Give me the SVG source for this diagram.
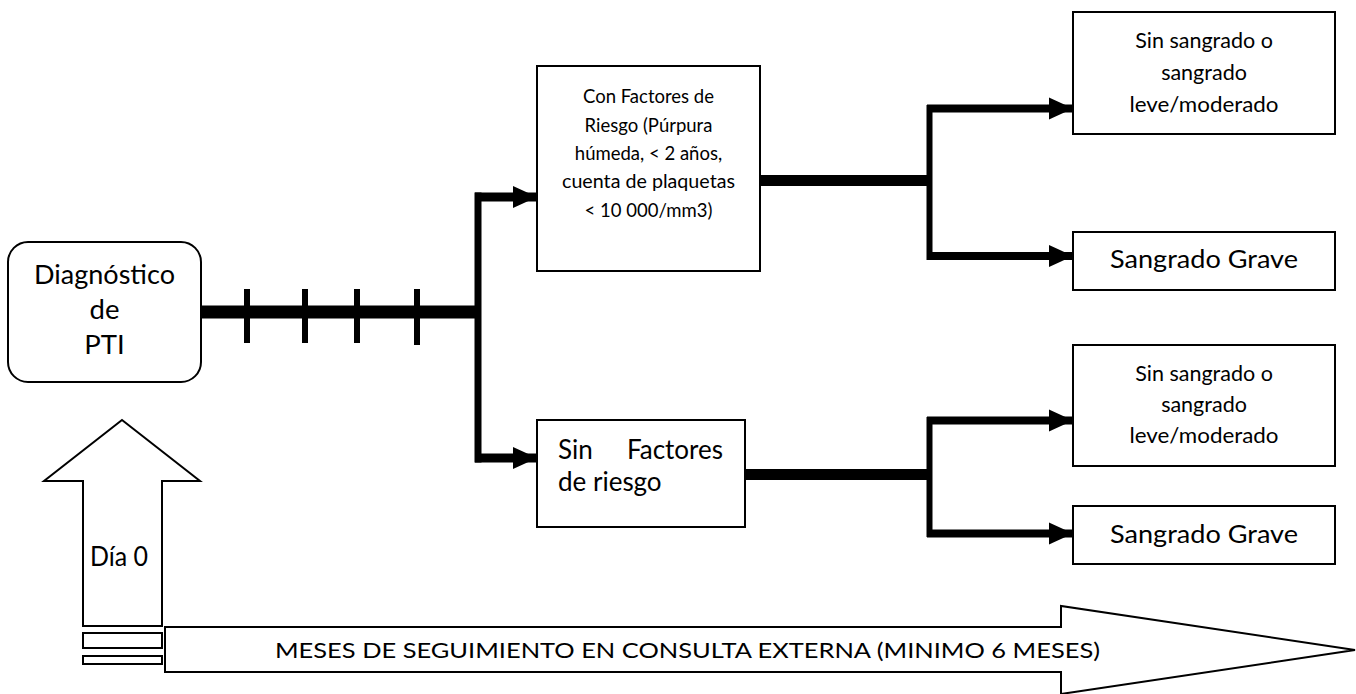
<svg xmlns="http://www.w3.org/2000/svg" width="1356" height="694" viewBox="0 0 1356 694">
<style>
  .box { fill: #fff; stroke: #000; stroke-width: 2; }
  .shape { fill: #fff; stroke: #000; stroke-width: 2; stroke-linejoin: miter; }
  .t { font-family: Lato, "Open Sans", sans-serif; fill: #000; }
  .c { text-anchor: middle; }
  .thick { stroke: #000; fill: none; stroke-linecap: butt; }
</style>
<defs>
  <marker id="ah" markerUnits="userSpaceOnUse" markerWidth="24" markerHeight="24" viewBox="0 0 24 24" refX="24" refY="12" orient="auto">
    <path d="M0,1 L24,12 L0,23 Z" fill="#000"/>
  </marker>
</defs>

<g id="connectors">
  <line class="thick" x1="201" y1="312" x2="481" y2="312" stroke-width="13"/>
  <line class="thick" x1="247" y1="289" x2="247" y2="343" stroke-width="6"/>
  <line class="thick" x1="305" y1="289" x2="305" y2="343" stroke-width="6"/>
  <line class="thick" x1="357" y1="289" x2="357" y2="343" stroke-width="6"/>
  <line class="thick" x1="417" y1="289" x2="417" y2="345" stroke-width="6"/>
  <line class="thick" x1="478" y1="192.5" x2="478" y2="462.5" stroke-width="7"/>
  <line class="thick" x1="475" y1="197" x2="537" y2="197" stroke-width="9" marker-end="url(#ah)"/>
  <line class="thick" x1="475" y1="458" x2="537" y2="458" stroke-width="9" marker-end="url(#ah)"/>

  <line class="thick" x1="760" y1="180.5" x2="930" y2="180.5" stroke-width="11"/>
  <line class="thick" x1="929.5" y1="105" x2="929.5" y2="260" stroke-width="6"/>
  <line class="thick" x1="927" y1="108.5" x2="1073" y2="108.5" stroke-width="8" marker-end="url(#ah)"/>
  <line class="thick" x1="927" y1="256" x2="1073" y2="256" stroke-width="8" marker-end="url(#ah)"/>

  <line class="thick" x1="745" y1="474.5" x2="930" y2="474.5" stroke-width="11"/>
  <line class="thick" x1="929.5" y1="417" x2="929.5" y2="537" stroke-width="6"/>
  <line class="thick" x1="927" y1="420.5" x2="1073" y2="420.5" stroke-width="8" marker-end="url(#ah)"/>
  <line class="thick" x1="927" y1="533.5" x2="1073" y2="533.5" stroke-width="8" marker-end="url(#ah)"/>
</g>

<g id="diagnostico">
  <rect class="box" x="8" y="242" width="193" height="140" rx="20"/>
  <text class="t c" font-size="27.5" x="104.5" y="284" textLength="141" lengthAdjust="spacingAndGlyphs">Diagnóstico</text>
  <text class="t c" font-size="27.5" x="104.5" y="319">de</text>
  <text class="t c" font-size="27.5" x="104.5" y="354">PTI</text>
</g>

<g id="con-factores">
  <rect class="box" x="537" y="66" width="223" height="205"/>
  <text class="t c" font-size="18.5" x="648.5" y="103">Con Factores de</text>
  <text class="t c" font-size="18.5" x="648.5" y="132">Riesgo (Púrpura</text>
  <text class="t c" font-size="18.5" x="648.5" y="160">húmeda, &lt; 2 años,</text>
  <text class="t c" font-size="18.5" x="648.5" y="188" textLength="173" lengthAdjust="spacingAndGlyphs">cuenta de plaquetas</text>
  <text class="t c" font-size="18.5" x="648.5" y="217">&lt; 10 000/mm3)</text>
</g>

<g id="sin-factores">
  <rect class="box" x="537" y="420" width="208" height="107"/>
  <text class="t" font-size="26" x="558" y="459">Sin</text>
  <text class="t" font-size="26" x="723" y="459" text-anchor="end">Factores</text>
  <text class="t" font-size="26" x="558" y="491">de riesgo</text>
</g>

<g id="sin-sangrado-1">
  <rect class="box" x="1073" y="12" width="262" height="122"/>
  <text class="t c" font-size="21.5" x="1204" y="48">Sin sangrado o</text>
  <text class="t c" font-size="21.5" x="1204" y="80">sangrado</text>
  <text class="t c" font-size="21.5" x="1204" y="112" textLength="149" lengthAdjust="spacingAndGlyphs">leve/moderado</text>
</g>

<g id="grave-1">
  <rect class="box" x="1073" y="232" width="262" height="58"/>
  <text class="t c" font-size="25" x="1204" y="268" textLength="188" lengthAdjust="spacingAndGlyphs">Sangrado Grave</text>
</g>

<g id="sin-sangrado-2">
  <rect class="box" x="1073" y="345" width="262" height="121"/>
  <text class="t c" font-size="21.5" x="1204" y="381">Sin sangrado o</text>
  <text class="t c" font-size="21.5" x="1204" y="412">sangrado</text>
  <text class="t c" font-size="21.5" x="1204" y="443" textLength="149" lengthAdjust="spacingAndGlyphs">leve/moderado</text>
</g>

<g id="grave-2">
  <rect class="box" x="1073" y="506" width="262" height="58"/>
  <text class="t c" font-size="25" x="1204" y="543" textLength="188" lengthAdjust="spacingAndGlyphs">Sangrado Grave</text>
</g>

<g id="dia-0">
  <polygon class="shape" points="122,420 200,481 162,481 162,626 83,626 83,481 44,481"/>
  <text class="t" font-size="26" x="90" y="566" textLength="58" lengthAdjust="spacingAndGlyphs">Día 0</text>
  <rect class="shape" x="83" y="633" width="79" height="15"/>
  <rect class="shape" x="83" y="656" width="79" height="8"/>
</g>

<g id="meses">
  <polygon class="shape" points="165,627 1061,627 1061,606 1355,650 1061,694 1061,672 165,672"/>
  <text class="t" font-size="21" x="275" y="658" textLength="825" lengthAdjust="spacingAndGlyphs">MESES DE SEGUIMIENTO EN CONSULTA EXTERNA (MINIMO 6 MESES)</text>
</g>
</svg>
